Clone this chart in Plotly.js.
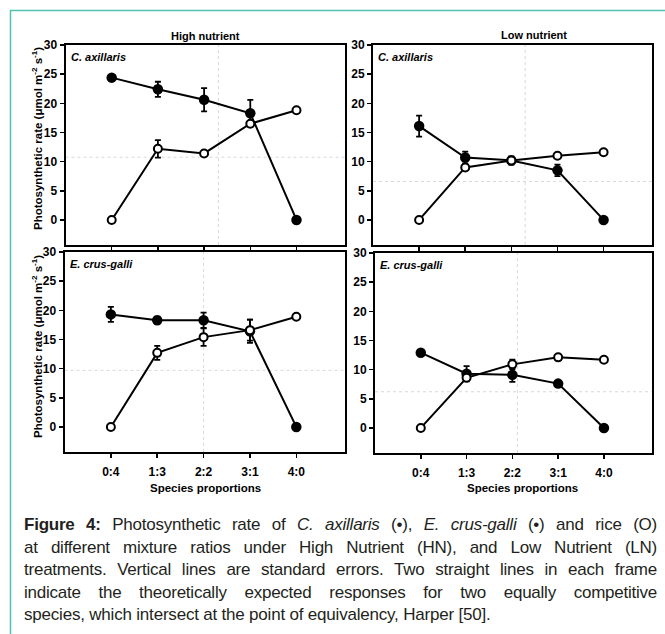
<!DOCTYPE html>
<html>
<head>
<meta charset="utf-8">
<script src="https://cdn.plot.ly/plotly-3.0.1.min.js"></script>
<style>
  html, body { margin: 0; padding: 0; background: #fff; overflow: hidden; }
  #wrap { position: relative; width: 665px; height: 634px; }
  #chart { position: absolute; left: 0; top: 0; width: 665px; height: 634px; }
  #caption { position: absolute; left: 24px; top: 514px; width: 633px;
             font-family: "Liberation Sans", Arial, sans-serif; font-size: 17px;
             letter-spacing: -0.2px; line-height: 22.5px; color: #231f20; }
  #caption .j { text-align: justify; text-align-last: justify; }
  #caption .l { text-align: left; }
</style>
</head>
<body>
<div id="wrap">
  <div id="chart"></div>
  <div id="caption">
    <div class="j"><b>Figure 4:</b> Photosynthetic rate of <i>C. axillaris</i> (•), <i>E. crus-galli</i> (•) and rice (O)</div>
    <div class="j">at different mixture ratios under High Nutrient (HN), and Low Nutrient (LN)</div>
    <div class="j">treatments. Vertical lines are standard errors. Two straight lines in each frame</div>
    <div class="j">indicate the theoretically expected responses for two equally competitive</div>
    <div class="l">species, which intersect at the point of equivalency, Harper [50].</div>
  </div>
</div>
<script>
// ---------- data ----------
const categories = ['0:4', '1:3', '2:2', '3:1', '4:0'];
const xIdx = [0, 1, 2, 3, 4];
const yTicks = [0, 5, 10, 15, 20, 25, 30];

// High nutrient, C. axillaris
const hnCaxWeed    = [24.4, 22.4, 20.6, 18.3, 0];
const hnCaxWeedErr = [0, 1.3, 2.0, 2.3, 0];
const hnCaxRice    = [0, 12.2, 11.4, 16.5, 18.8];
const hnCaxRiceErr = [0, 1.5, 0.4, 0.4, 0];
// Low nutrient, C. axillaris
const lnCaxWeed    = [16.1, 10.7, 10.2, 8.5, 0];
const lnCaxWeedErr = [1.8, 1.0, 0.7, 1.0, 0];
const lnCaxRice    = [0, 9.0, 10.2, 11.0, 11.6];
const lnCaxRiceErr = [0, 0.4, 0.4, 0.3, 0.2];
// High nutrient, E. crus-galli
const hnEcgWeed    = [19.3, 18.3, 18.3, 16.4, 0];
const hnEcgWeedErr = [1.3, 0.6, 1.3, 2.0, 0];
const hnEcgRice    = [0, 12.7, 15.4, 16.6, 18.9];
const hnEcgRiceErr = [0, 1.2, 1.5, 1.8, 0];
// Low nutrient, E. crus-galli
const lnEcgWeed    = [12.9, 9.3, 9.1, 7.6, 0];
const lnEcgWeedErr = [0, 1.3, 1.2, 0.3, 0];
const lnEcgRice    = [0, 8.6, 10.9, 12.1, 11.7];
const lnEcgRiceErr = [0, 0.4, 0.8, 0.3, 0.3];

// dotted equivalency reference lines (per panel: TL, TR, BL, BR)
const eqX = [2.31, 2.3, 2.0, 2.11];
const eqY = [10.75, 6.6, 9.7, 6.2];

const panelTitles = ['High nutrient', 'Low nutrient'];
const speciesLabels = ['C. axillaris', 'E. crus-galli'];
const yTitle = 'Photosynthetic rate (μmol m<sup>-2</sup> s<sup>-1</sup>)';
const xTitle = 'Species proportions';

// ---------- styling helpers ----------
const W = 665, H = 634;
const px = v => v / W;
const py = v => 1 - v / H;
const FONT = 'Liberation Sans, Arial, sans-serif';

function weedTrace(y, err, xa, ya) {
  return {
    x: xIdx, y: y, xaxis: xa, yaxis: ya, type: 'scatter', mode: 'lines+markers',
    line: { color: '#000', width: 2 },
    marker: { color: '#000', size: 10.5, symbol: 'circle' },
    error_y: { type: 'data', array: err, visible: true, color: '#000', thickness: 1.8, width: 3 },
    showlegend: false, hoverinfo: 'skip'
  };
}
function riceTrace(y, err, xa, ya) {
  return {
    x: xIdx, y: y, xaxis: xa, yaxis: ya, type: 'scatter', mode: 'lines+markers',
    line: { color: '#000', width: 2 },
    marker: { color: '#fff', size: 8, symbol: 'circle', line: { color: '#000', width: 2 } },
    error_y: { type: 'data', array: err, visible: true, color: '#000', thickness: 1.8, width: 3 },
    showlegend: false, hoverinfo: 'skip'
  };
}

const data = [
  weedTrace(hnCaxWeed, hnCaxWeedErr, 'x', 'y'),
  riceTrace(hnCaxRice, hnCaxRiceErr, 'x', 'y'),
  weedTrace(lnCaxWeed, lnCaxWeedErr, 'x2', 'y2'),
  riceTrace(lnCaxRice, lnCaxRiceErr, 'x2', 'y2'),
  weedTrace(hnEcgWeed, hnEcgWeedErr, 'x3', 'y3'),
  riceTrace(hnEcgRice, hnEcgRiceErr, 'x3', 'y3'),
  weedTrace(lnEcgWeed, lnEcgWeedErr, 'x4', 'y4'),
  riceTrace(lnEcgRice, lnEcgRiceErr, 'x4', 'y4')
];

const tickFont = { family: FONT, size: 12, color: '#000', weight: 'bold' };

function xAxis(domain, anchor, labels) {
  return {
    domain: domain, anchor: anchor, range: [-1, 5.05],
    tickmode: 'array', tickvals: xIdx, ticktext: categories, showticklabels: labels,
    showgrid: false, zeroline: false, showline: true, linewidth: 2, linecolor: '#000', mirror: true,
    ticks: 'outside', ticklen: 4, tickwidth: 1.5, tickcolor: '#000',
    tickfont: tickFont, ticklabelstandoff: 4, fixedrange: true
  };
}
function yAxis(domain, anchor) {
  return {
    domain: domain, anchor: anchor, range: [-4.3, 30],
    tickmode: 'array', tickvals: yTicks,
    showgrid: false, zeroline: false, showline: true, linewidth: 2, linecolor: '#000', mirror: true,
    ticks: 'outside', ticklen: 4, tickwidth: 1.5, tickcolor: '#000',
    tickfont: tickFont, fixedrange: true
  };
}

// panel frames in pixels: [left, right, top, bottom]
const frames = [
  [65.5, 345, 45, 245],
  [373, 652, 45, 245],
  [64.5, 345, 252, 452],
  [375, 652, 253, 453]
];
const xs = ['x', 'x2', 'x3', 'x4'];
const ys = ['y', 'y2', 'y3', 'y4'];

const layout = {
  width: W, height: H,
  margin: { l: 0, r: 0, t: 0, b: 0, pad: 0, autoexpand: false },
  paper_bgcolor: '#fff', plot_bgcolor: '#fff',
  font: { family: FONT, color: '#000' },
  showlegend: false,
  shapes: [],
  annotations: []
};

frames.forEach((f, i) => {
  const n = i === 0 ? '' : String(i + 1);
  layout['xaxis' + n] = xAxis([px(f[0]), px(f[1])], ys[i], i >= 2);
  layout['yaxis' + n] = yAxis([py(f[3]), py(f[2])], xs[i]);
  layout.shapes.push({
    type: 'line', xref: xs[i], yref: ys[i] + ' domain', x0: eqX[i], x1: eqX[i], y0: 0, y1: 1,
    line: { color: '#d8d8d8', width: 1, dash: 'dot' }, layer: 'below'
  });
  layout.shapes.push({
    type: 'line', xref: xs[i] + ' domain', yref: ys[i], x0: 0, x1: 1, y0: eqY[i], y1: eqY[i],
    line: { color: '#d8d8d8', width: 1, dash: 'dot' }, layer: 'below'
  });
  layout.annotations.push({
    xref: 'paper', yref: 'paper', x: px(f[0] + 3), y: py(f[2] + 12), xanchor: 'left', yanchor: 'middle',
    text: '<b><i>' + speciesLabels[Math.floor(i / 2)] + '</i></b>', showarrow: false,
    font: { family: FONT, size: 11, color: '#000' }
  });
});

// teal border
layout.shapes.push({ type: 'line', xref: 'paper', yref: 'paper', x0: px(10), x1: px(665), y0: py(10.5), y1: py(10.5),
  line: { color: '#4fc3b0', width: 1.5 } });
layout.shapes.push({ type: 'line', xref: 'paper', yref: 'paper', x0: px(10.5), x1: px(10.5), y0: py(10), y1: py(634),
  line: { color: '#4fc3b0', width: 1.5 } });

// column titles
layout.annotations.push({ xref: 'paper', yref: 'paper', x: px(205), y: py(36), xanchor: 'center', yanchor: 'middle',
  text: '<b>' + panelTitles[0] + '</b>', showarrow: false, font: { family: FONT, size: 11 } });
layout.annotations.push({ xref: 'paper', yref: 'paper', x: px(534), y: py(35), xanchor: 'center', yanchor: 'middle',
  text: '<b>' + panelTitles[1] + '</b>', showarrow: false, font: { family: FONT, size: 11 } });

// y titles
[139, 347].forEach(cy => {
  layout.annotations.push({ xref: 'paper', yref: 'paper', x: px(37), y: py(cy), xanchor: 'center', yanchor: 'middle',
    text: '<b>' + yTitle + '</b>', textangle: -90, showarrow: false, font: { family: FONT, size: 11.5 } });
});

// x titles
[205, 522].forEach(cx => {
  layout.annotations.push({ xref: 'paper', yref: 'paper', x: px(cx), y: py(488), xanchor: 'center', yanchor: 'middle',
    text: '<b>' + xTitle + '</b>', showarrow: false, font: { family: FONT, size: 11.5 } });
});

Plotly.newPlot('chart', data, layout, { displayModeBar: false, staticPlot: true });

// keep each caption line on one line: tighten letter spacing if a line would overflow
document.querySelectorAll('#caption > div').forEach(div => {
  const span = document.createElement('span');
  span.style.whiteSpace = 'nowrap';
  while (div.firstChild) span.appendChild(div.firstChild);
  div.appendChild(span);
  const avail = div.clientWidth;
  const w = span.getBoundingClientRect().width;
  const n = span.textContent.length;
  if (w > avail - 2) {
    const base = parseFloat(getComputedStyle(div).letterSpacing) || 0;
    div.style.letterSpacing = (base + (avail - 3 - w) / n) + 'px';
  }
  span.style.whiteSpace = 'normal';
});
</script>
</body>
</html>
